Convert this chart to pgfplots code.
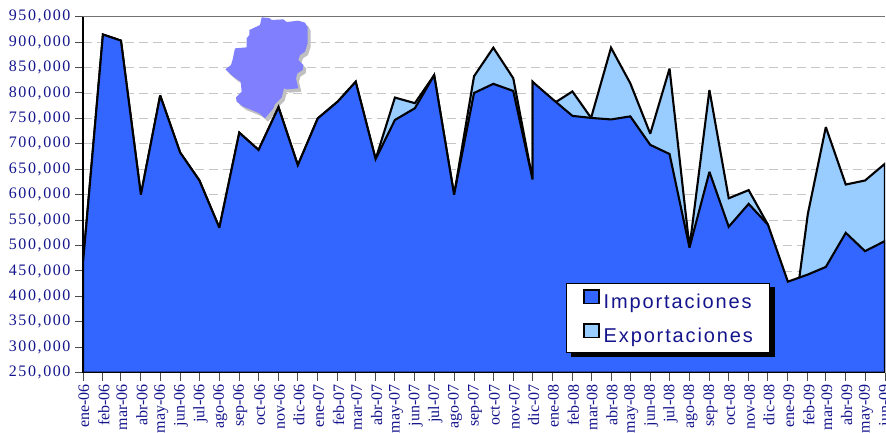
\documentclass[border=0pt]{standalone}
\usepackage{fontspec}
\setmainfont{Liberation Serif}
\newfontfamily\yfont[LetterSpace=10]{Liberation Serif}
\newfontfamily\xfont{Liberation Serif}
\newfontfamily\lfont[LetterSpace=9.3]{Liberation Sans}
\usepackage{pgfplots}
\usepackage{pgfplotstable}
\pgfplotsset{compat=1.18}
\definecolor{imp}{HTML}{3366FF}
\definecolor{exp}{HTML}{99CCFF}
\definecolor{lab}{HTML}{14148C}
\definecolor{mapc}{HTML}{8080FF}
\definecolor{mapsh}{HTML}{C0C0C0}
\pgfplotstableread{
x y
125 22
148 24
155 30
190 28
200 36
235 32
255 38
263 52
263 100
255 125
240 135
235 150
250 165
248 180
232 190
228 205
235 235
200 238
192 235
185 262
165 282
160 295
135 325
118 310
95 300
70 290
50 275
48 262
65 245
62 215
40 200
16 178
33 165
38 148
45 115
80 112
80 85
88 75
88 60
120 45
125 22
}\mapdata
\pgfplotstableread{
d imp exp
0 466000 466000
31 915000 915000
59 903000 903000
90 600000 600000
120 795000 795000
151 683000 683000
181 628000 628000
212 535000 535000
243 722000 722000
273 688000 688000
304 772000 772000
334 658000 658000
365 750000 750000
396 783000 783000
424 822000 822000
455 670000 670000
485 747000 791000
516 770000 780000
546 835000 835000
577 600000 600000
608 800000 833000
638 818000 889000
669 804000 829000
699 630000 630000
699 822000 822000
730 788000 778000
761 755000 803000
790 751000 751000
821 748000 889000
851 754000 819000
882 698000 720000
912 680000 848000
943 496000 496000
974 645000 806000
1004 537000 593000
1035 582000 609000
1065 541000 541000
1096 429000 268000
1127 443000 562000
1155 458000 733000
1186 525000 620000
1216 489000 628000
1247 509000 661000
}\trade
\begin{document}
\begin{tikzpicture}[x=1pt,y=1pt]
\useasboundingbox (0,0) rectangle (886,432);
\clip (0,0) rectangle (886,432);
\begin{axis}[
  at={(83pt,59.3pt)},anchor=origin,
  scale only axis,width=802pt,height=356pt,
  xmin=0,xmax=1247,ymin=250000,ymax=950000,
  axis lines*=left,
  axis line style={black,line width=1.4pt},
  ytick distance=50000,
  scaled y ticks=false,
  ymajorgrids,
  major grid style={gray!45,line width=0.8pt,dash pattern=on 9pt off 5pt},
  tick style={black!70,line width=1pt},
  tick align=outside,
  major tick length=8pt,
  yticklabel style={font=\yfont\fontsize{16}{16}\selectfont,text=lab,
    /pgf/number format/fixed,/pgf/number format/1000 sep={,},
    /pgf/number format/assume math mode=true,xshift=-1pt},
  xtick={0,31,59,90,120,151,181,212,243,273,304,334,365,396,424,455,485,516,546,577,608,638,669,699,730,761,790,821,851,882,912,943,974,1004,1035,1065,1096,1127,1155,1186,1216,1247},
  xticklabels={ene-06,feb-06,mar-06,abr-06,may-06,jun-06,jul-06,ago-06,sep-06,oct-06,nov-06,dic-06,ene-07,feb-07,mar-07,abr-07,may-07,jun-07,jul-07,ago-07,sep-07,oct-07,nov-07,dic-07,ene-08,feb-08,mar-08,abr-08,may-08,jun-08,jul-08,ago-08,sep-08,oct-08,nov-08,dic-08,ene-09,feb-09,mar-09,abr-09,may-09,jun-09},
  xticklabel style={font=\xfont\fontsize{16}{16}\selectfont,text=lab,rotate=90,anchor=east,xshift=0pt,yshift=-1pt},
  legend cell align=left,
  legend style={at={(axis cs:751.5,426300)},anchor=north west,
    draw=black,line width=0.8pt,fill=white,
    inner xsep=16.5pt,inner ysep=5.8pt,
    text=lab,font=\lfont\fontsize{20}{20}\selectfont,
    row sep=11pt,column sep=4pt,
    nodes={inner sep=0pt,text depth=4pt,text height=15pt}},
  legend image code/.code={\draw[#1,line width=1.5pt,draw=black] (0pt,-0.5pt) rectangle (15pt,13pt);},
]
\draw[black!55,line width=1.2pt] (rel axis cs:0,1) -- (rel axis cs:1,1);
\addplot[forget plot,fill=mapsh,draw=none] table[x expr={((\thisrow{x}+9)/3+137)*1247/802},y expr={950000-((\thisrow{y}+10)/3-6.7)*700000/356}] {\mapdata};
\addplot[forget plot,fill=mapc,draw=none] table[x expr={(\thisrow{x}/3+137)*1247/802},y expr={950000-(\thisrow{y}/3-6.7)*700000/356}] {\mapdata};
\addplot[fill=exp,draw=black,line width=2.1pt,miter limit=3,forget plot] table[x=d,y=exp] {\trade} \closedcycle;
\addplot[fill=imp,draw=black,line width=2.1pt,miter limit=3,forget plot] table[x=d,y=imp] {\trade} \closedcycle;
\fill[black] (axis cs:758,418400) rectangle (axis cs:1076,281000);
\addlegendimage{fill=imp}
\addlegendentry{Importaciones}
\addlegendimage{fill=exp}
\addlegendentry{Exportaciones}
\end{axis}
\end{tikzpicture}
\end{document}
